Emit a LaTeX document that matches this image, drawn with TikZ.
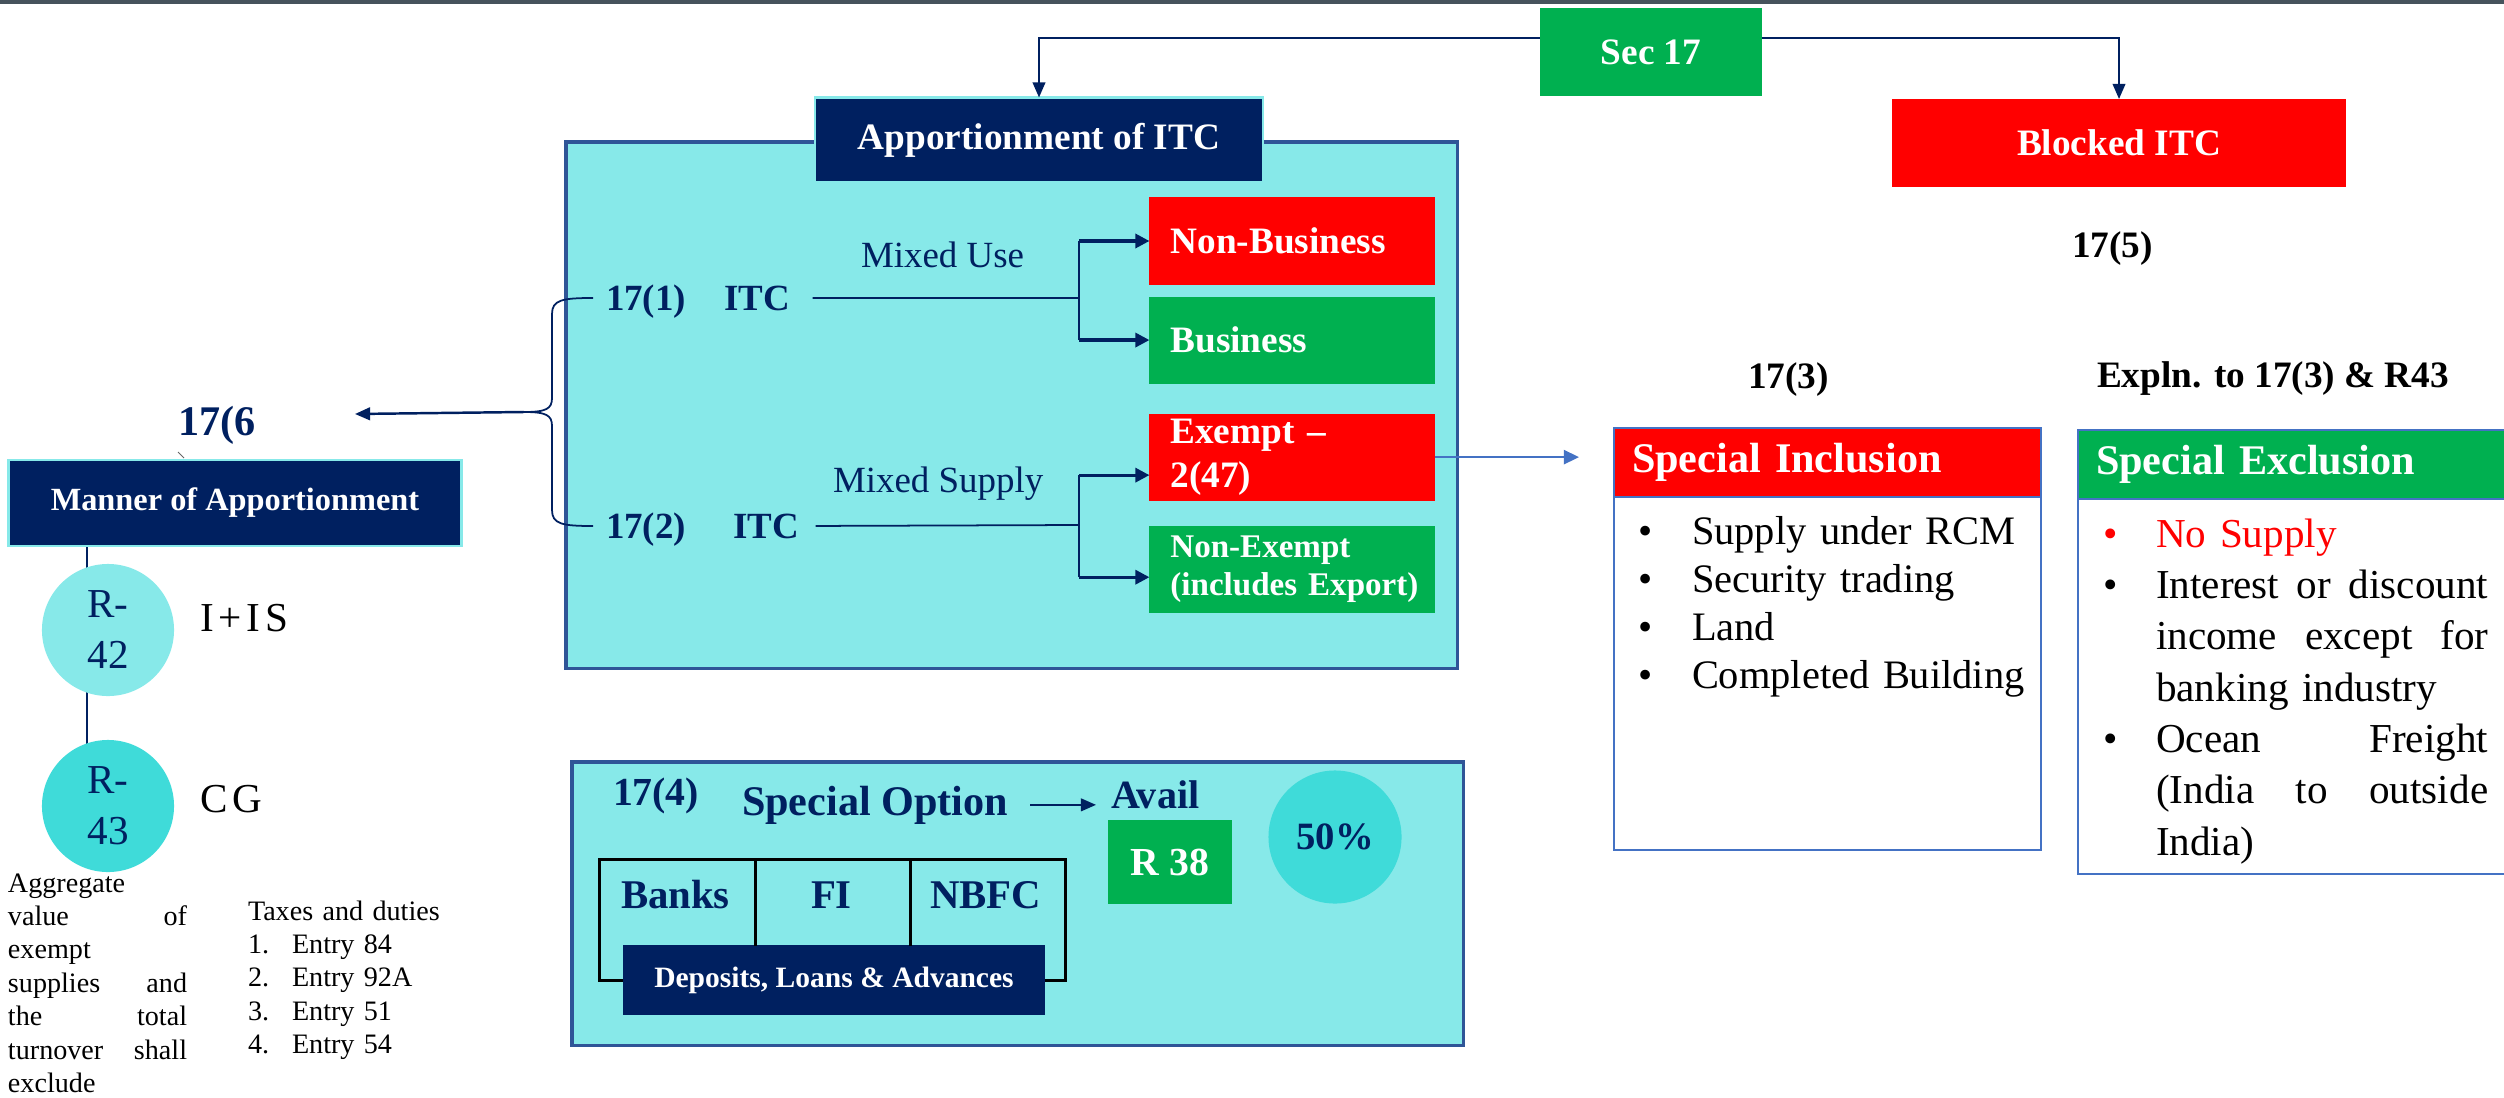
\documentclass[tikz,border=0pt]{standalone}
\usepackage{fontspec}
\setmainfont{Liberation Serif}
\usetikzlibrary{arrows.meta,positioning,backgrounds}
\definecolor{navy}{HTML}{002060}
\definecolor{cyanfill}{HTML}{87E9E9}
\definecolor{cyandark}{HTML}{3FDBD9}
\definecolor{itcred}{HTML}{FF0000}
\definecolor{itcgreen}{HTML}{00B050}
\definecolor{frameblue}{HTML}{2F5597}
\definecolor{linkblue}{HTML}{4472C4}
\definecolor{topbar}{HTML}{46535C}
\newcommand{\sz}[2]{\fontsize{#1}{#2}\selectfont}

\begin{document}
\begin{tikzpicture}[x=0.01cm,y=-0.01cm,
  every node/.style={inner sep=0pt,outer sep=0pt},
  filled/.style={rectangle,text=white,font=\bfseries\sz{10.6}{12.7}},
  redbox/.style={filled,fill=itcred},
  greenbox/.style={filled,fill=itcgreen},
  navybox/.style={filled,fill=navy,draw=cyanfill,line width=0.7pt},
  sidebox/.style={minimum width=2.85cm,minimum height=0.87cm,text width=2.43cm,align=left},
  panel/.style={draw=frameblue,line width=0.9pt,fill=cyanfill,anchor=north west},
  headbox/.style={anchor=north west,draw=linkblue,line width=0.6pt,minimum height=0.69cm,align=left,font=\bfseries\sz{12}{14}},
  listbox/.style={draw=linkblue,line width=0.6pt,fill=white},
  caption/.style={anchor=base west,text=navy,font=\bfseries\sz{10.5}{12.6}},
  plain/.style={anchor=base west,text=navy,font=\sz{10.5}{12.6}},
  ref/.style={anchor=base west,font=\bfseries\sz{10.6}{12.7}},
  conn/.style={draw=navy,line width=0.55pt,-{Triangle[length=4.3pt,width=3.6pt]}},
  fork/.style={draw=navy,line width=0.9pt,-{Triangle[length=4pt,width=4pt]}},
  linkarrow/.style={draw=linkblue,line width=0.7pt,-{Triangle[length=4.3pt,width=4pt]}},
  link/.style={draw=navy,line width=0.5pt},
  bracket/.style={draw=black,line width=0.85pt},
  rcircle/.style={circle,minimum size=1.32cm,text=navy,font=\sz{11.7}{14.5},align=left}]

  \useasboundingbox (0,0) rectangle (2504,1097);
  \fill[topbar] (0,0) rectangle (2504,4);

  \node[greenbox,minimum width=2.22cm,minimum height=0.88cm] (sec) at (1651,52) {Sec 17};
  \node[redbox,minimum width=4.54cm,minimum height=0.88cm] (blocked) at (2119,143) {Blocked ITC};
  \node[ref] (fivelbl) at (2072,257) {17(5)};

  \node[panel,minimum width=8.91cm,minimum height=5.26cm] (itcpanel) at (566,142) {};
  \node[navybox,minimum width=4.48cm,minimum height=0.85cm] (apptitle) at (1039,140) {Apportionment of ITC};

  \draw[conn] ([yshift=0.14cm]sec.west) -| (apptitle.north);
  \draw[conn] ([yshift=0.14cm]sec.east) -| (blocked.north);

  \node[caption] (oneno) at (606,310) {17(1)};
  \node[caption] (itcone) at (724,310) {ITC};
  \node[caption] (twono) at (606,538) {17(2)};
  \node[caption] (itctwo) at (733,538) {ITC};
  \node[plain] (mixuse) at (861,268) {Mixed Use};
  \node[plain] (mixsup) at (833,492) {Mixed Supply};

  \node[redbox,sidebox] (nonbus) at (1292,241) {Non-Business};
  \node[greenbox,sidebox,below=0.12cm of nonbus] (bus) {Business};
  \node[redbox,sidebox,below=0.30cm of bus] (exempt) {Exempt --\\2(47)};
  \node[greenbox,sidebox,below=0.25cm of exempt,font=\bfseries\sz{9.4}{10.8}] (nonex) {Non-Exempt\\\mbox{(includes Export)}};

  \coordinate (usefork) at (1079,298);
  \coordinate (supfork) at (1079,525);
  \coordinate (extip) at ([yshift=-0.18cm]exempt.west);
  \coordinate (nextip) at ([yshift=-0.08cm]nonex.west);
  \draw[link] ([xshift=0.23cm]itcone.east) -- (usefork);
  \draw[link] (usefork |- nonbus.west) -- (usefork |- bus.west);
  \draw[fork] (usefork |- nonbus.west) -- (nonbus.west);
  \draw[fork] (usefork |- bus.west) -- (bus.west);
  \draw[link] ([xshift=0.17cm]itctwo.east) -- (supfork);
  \draw[link] (supfork |- extip) -- (supfork |- nextip);
  \draw[fork] (supfork |- extip) -- (extip);
  \draw[fork] (supfork |- nextip) -- (nextip);

  \draw[link] (593,298) .. controls (562,298) and (552,300) .. (552,314) -- (552,398)
    .. controls (552,409) and (546,412) .. (524,412)
    .. controls (546,412) and (552,415) .. (552,426) -- (552,510)
    .. controls (552,524) and (562,526) .. (593,526);
  \coordinate (bracetip) at (524,412);
  \coordinate (sixin) at (355,414);
  \node[caption,font=\bfseries\sz{12}{14}] (sixlbl) at (178,435) {17(6};
  \draw[conn,line width=0.7pt] (bracetip) -- (sixin);
  \draw[black!60,line width=0.3pt] (178,452) -- (184,458);

  \node[navybox,minimum width=4.53cm,minimum height=0.86cm,font=\bfseries\sz{9.2}{11}] (manner) at (235,503) {Manner of Apportionment};
  \node[rcircle,fill=cyanfill] (rfortytwo) at (108,630) {R-\\42};
  \node[rcircle,fill=cyandark] (rfortythree) at (108,806) {R-\\43};
  \coordinate (stemx) at ([xshift=-0.21cm]rfortytwo.center);
  \begin{scope}[on background layer]
    \draw[link] (stemx |- manner.south) -- (stemx |- rfortythree.center);
  \end{scope}
  \node[anchor=base west,font=\sz{11.7}{14}\addfontfeature{LetterSpace=12}] (iis) at (200,631) {I+IS};
  \node[anchor=base west,font=\sz{11.7}{14}\addfontfeature{LetterSpace=12}] (cg) at (200,812) {CG};

  \node[anchor=base west,text width=1.79cm,align=left,font=\sz{8}{9.5}] (aggr) at (8,892)
    {Aggregate\\value\hfill of\\exempt\\supplies\hfill and\\the\hfill total\\turnover\hfill shall\\exclude};
  \node[anchor=base west,text width=2.4cm,align=left,font=\sz{8}{9.5}] (taxes) at (248,920)
    {Taxes and duties\\\makebox[0.44cm][l]{1.}Entry 84\\\makebox[0.44cm][l]{2.}Entry 92A\\\makebox[0.44cm][l]{3.}Entry 51\\\makebox[0.44cm][l]{4.}Entry 54};

  \node[panel,minimum width=8.91cm,minimum height=2.83cm] (optpanel) at (572,762) {};
  \node[caption,font=\bfseries\sz{11.3}{13}] (fourno) at (613,805) {17(4)};
  \node[caption,font=\bfseries\sz{12}{14}] (option) at (742,815) {Special Option};
  \node[caption,font=\bfseries\sz{11.4}{13}] (avail) at (1111,808) {Avail};
  \coordinate (availin) at ([xshift=-0.15cm]avail.west);
  \draw[conn,line width=0.6pt] ([xshift=0.22cm]option.east) -- (availin |- option.east);
  \node[greenbox,minimum width=1.24cm,minimum height=0.84cm,font=\bfseries\sz{11.3}{13}] (rthirtyeight) at (1170,862) {R 38};
  \node[circle,minimum size=1.33cm,fill=cyandark,text=navy,font=\bfseries\sz{11}{13}] (fifty) at (1335,837) {50\%};

  \node[navybox,draw=none,minimum width=4.21cm,minimum height=0.69cm,font=\bfseries\sz{8.4}{10}] (deposits) at (834,980) {Deposits, Loans \& Advances};
  \node[caption,font=\bfseries\sz{11.6}{13}] (banks) at (621,908) {Banks};
  \node[caption,font=\bfseries\sz{11.6}{13}] (fi) at (811,908) {FI};
  \node[caption,font=\bfseries\sz{11.6}{13}] (nbfc) at (930,908) {NBFC};
  \draw[bracket] (deposits.west) -| (599,859) -- (1065,859) |- (deposits.east);
  \draw[bracket] (755,859) -- (755,946);
  \draw[bracket] (910,859) -- (910,946);

  \node[ref] (threeno) at (1748,388) {17(3)};
  \node[ref] (expln) at (2097,387) {Expln. to 17(3) \& R43};

  \node[redbox,headbox,minimum width=4.27cm,text width=3.91cm] (inchead) at (1614,428) {Special Inclusion};
  \node[listbox,minimum width=4.27cm,minimum height=3.53cm,below=0pt of inchead] (incbody) {};
  \node[anchor=base west,text width=4.0cm,align=left,font=\sz{11.5}{13.65}] (inclist) at (1638,544)
    {\makebox[0.54cm][l]{\textbullet}Supply under RCM\\\makebox[0.54cm][l]{\textbullet}Security trading\\\makebox[0.54cm][l]{\textbullet}Land\\\makebox[0.54cm][l]{\textbullet}Completed Building};

  \node[greenbox,headbox,minimum width=4.6cm,text width=4.24cm] (exchead) at (2078,430) {Special Exclusion};
  \node[listbox,minimum width=4.6cm,minimum height=3.75cm,below=0pt of exchead] (excbody) {};
  \node[anchor=base west,text width=3.85cm,align=left,font=\sz{11.7}{14.6}] (exclist) at (2103,547)
    {{\color{itcred}\makebox[0.53cm][l]{\textbullet}No Supply}\\
     \makebox[0.53cm][l]{\textbullet}Interest\hfill or\hfill discount\\
     \hspace*{0.53cm}income\hfill except\hfill for\\
     \hspace*{0.53cm}banking industry\\
     \makebox[0.53cm][l]{\textbullet}Ocean\hfill Freight\\
     \hspace*{0.53cm}(India\hfill to\hfill outside\\
     \hspace*{0.53cm}India)};

  \coordinate (incin) at ([xshift=-0.35cm]inchead.west);
  \draw[linkarrow] (exempt.east) -- (incin |- exempt.east);
\end{tikzpicture}
\end{document}
